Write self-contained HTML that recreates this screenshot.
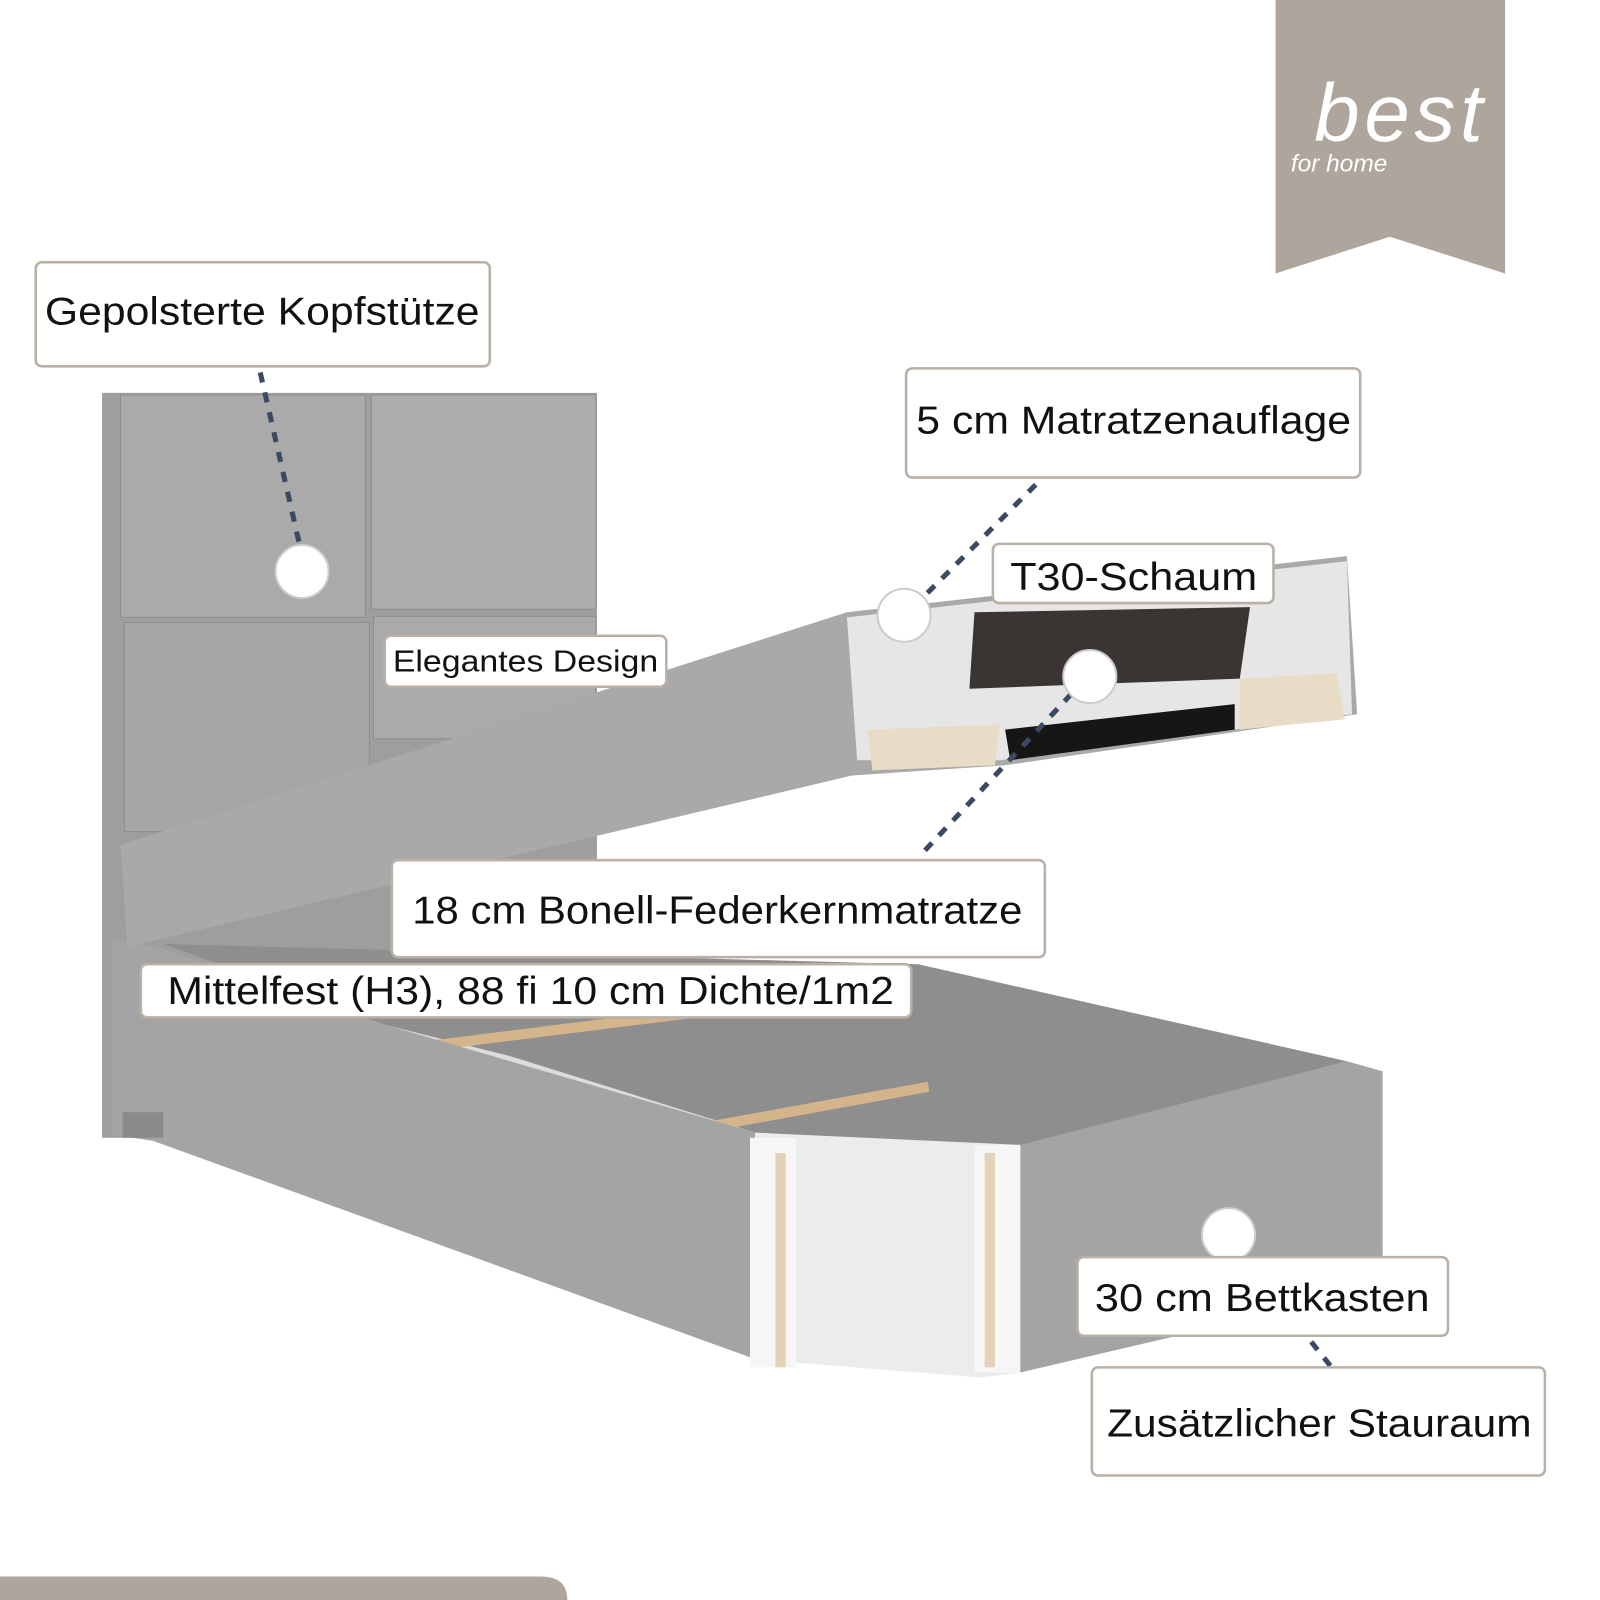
<!DOCTYPE html>
<html><head><meta charset="utf-8"><style>
html,body{margin:0;padding:0;background:#fff}
svg{display:block}
text{font-family:"Liberation Sans",sans-serif;fill:#111}
</style></head><body>
<svg width="1600" height="1600" viewBox="0 0 1568 1568" xmlns="http://www.w3.org/2000/svg">
<rect width="1568" height="1568" fill="#fff"/>
<!-- logo -->
<polygon points="1250,0 1475,0 1475,268 1362,232 1250,268" fill="#aea69d"/>
<text x="1288" y="138" font-size="80" font-style="italic" style="fill:#fff" textLength="165">best</text>
<text x="1265" y="168" font-size="24" font-style="italic" style="fill:#fff">for home</text>
<!-- headboard -->
<rect x="100" y="385" width="485" height="730" fill="#9e9e9e"/>
<rect x="118" y="387" width="240" height="218" fill="#aaa" stroke="#8e8e8e"/>
<rect x="364" y="387" width="220" height="210" fill="#acacac" stroke="#8e8e8e"/>
<rect x="122" y="610" width="240" height="205" fill="#a6a6a6" stroke="#8e8e8e"/>
<rect x="366" y="604" width="218" height="120" fill="#aaa" stroke="#8e8e8e"/>
<!-- base box interior -->
<polygon points="160,925 900,945 1320,1040 1000,1125 740,1110 380,1005" fill="#8e8e8e"/>
<polygon points="380,1005 500,1035 740,1110 740,1120 480,1050" fill="#dcdcdc"/>
<line x1="420" y1="1025" x2="700" y2="990" stroke="#d4b48a" stroke-width="10"/>
<line x1="690" y1="1105" x2="910" y2="1065" stroke="#d4b48a" stroke-width="10"/>
<!-- base front left face -->
<polygon points="110,920 160,930 380,1005 740,1110 740,1332 150,1118 110,1112" fill="#a4a4a4"/>
<!-- cut section -->
<polygon points="740,1110 1000,1122 1000,1345 960,1350 740,1332" fill="#ececec"/>
<rect x="735" y="1115" width="45" height="225" fill="#f6f6f6"/>
<rect x="760" y="1130" width="10" height="210" fill="#e2d2b8"/>
<rect x="955" y="1122" width="45" height="223" fill="#f6f6f6"/>
<rect x="965" y="1130" width="10" height="210" fill="#e2d2b8"/>
<!-- right face -->
<polygon points="1000,1122 1320,1040 1355,1050 1355,1262 1000,1345" fill="#a4a4a4"/>
<rect x="120" y="1090" width="40" height="25" fill="#8a8a8a"/>
<!-- lid -->
<polygon points="118,828 830,600 1320,545 1330,700 985,750 835,760 125,928" fill="#a9a9a9"/>
<polygon points="830,605 1320,550 1325,700 980,745 840,745" fill="#e6e6e6"/>
<polygon points="955,600 1225,595 1215,665 950,675" fill="#3a3533"/>
<polygon points="985,715 1210,690 1210,715 990,745" fill="#161616"/>
<polygon points="850,715 980,710 975,750 855,755" fill="#e8dcc6"/>
<polygon points="1215,665 1310,660 1318,705 1215,715" fill="#e8dcc6"/>
<!-- connectors -->
<g stroke="#3b4a63" stroke-width="5" stroke-dasharray="10,10" fill="none">
<line x1="255" y1="365" x2="295" y2="540"/>
<line x1="1015" y1="475" x2="905" y2="585"/>
<line x1="1050" y1="680" x2="905" y2="835"/>
<line x1="1285" y1="1315" x2="1305" y2="1340"/>
</g>
<g fill="#fff" stroke="#ccc" stroke-width="2">
<circle cx="296" cy="560" r="26"/>
<circle cx="886" cy="603" r="26"/>
<circle cx="1068" cy="663" r="26"/>
<circle cx="1204" cy="1210" r="26"/>
</g>
<!-- labels -->
<g fill="#fff" stroke="#b9b0a6" stroke-width="2.5">
<rect x="35" y="257" width="445" height="102" rx="6"/>
<rect x="888" y="361" width="445" height="107" rx="6"/>
<rect x="973" y="533" width="275" height="58" rx="6"/>
<rect x="377" y="623" width="276" height="50" rx="6"/>
<rect x="384" y="843" width="640" height="95" rx="6"/>
<rect x="138" y="945" width="755" height="52" rx="6"/>
<rect x="1056" y="1232" width="363" height="77" rx="6"/>
<rect x="1070" y="1340" width="444" height="106" rx="6"/>
</g>
<g>
<text x="44" y="318" font-size="38" textLength="426" lengthAdjust="spacingAndGlyphs">Gepolsterte Kopfstütze</text>
<text x="898" y="425" font-size="38" textLength="426" lengthAdjust="spacingAndGlyphs">5 cm Matratzenauflage</text>
<text x="990" y="578" font-size="38" textLength="242" lengthAdjust="spacingAndGlyphs">T30-Schaum</text>
<text x="385" y="658" font-size="30" textLength="260" lengthAdjust="spacingAndGlyphs">Elegantes Design</text>
<text x="404" y="905" font-size="38" textLength="598" lengthAdjust="spacingAndGlyphs">18 cm Bonell-Federkernmatratze</text>
<text x="164" y="984" font-size="38" textLength="712" lengthAdjust="spacingAndGlyphs">Mittelfest (H3), 88 fi 10 cm Dichte/1m2</text>
<text x="1073" y="1285" font-size="38" textLength="328" lengthAdjust="spacingAndGlyphs">30 cm Bettkasten</text>
<text x="1085" y="1408" font-size="38" textLength="416" lengthAdjust="spacingAndGlyphs">Zusätzlicher Stauraum</text>
</g>
<!-- bottom bar -->
<path d="M0,1545 L530,1545 Q556,1545 556,1568 L0,1568 Z" fill="#aea69d"/>
</svg>
</body></html>
